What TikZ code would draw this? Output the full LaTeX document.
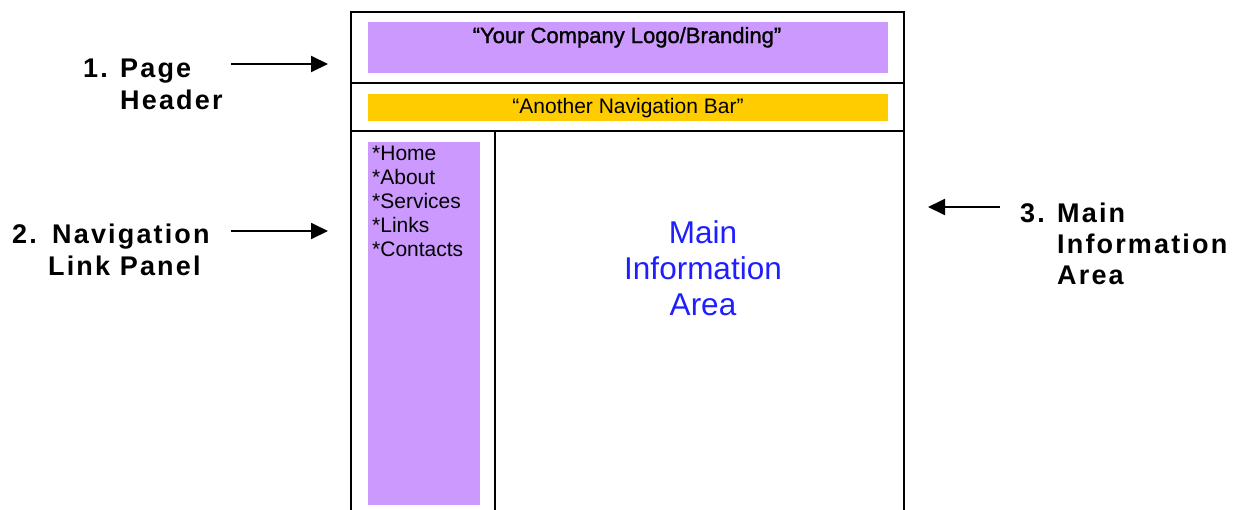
\documentclass[tikz,border=0pt]{standalone}
\usepackage{fontspec}
\setmainfont{Liberation Sans}
\newfontfamily\lblfont[LetterSpace=8]{Liberation Sans}
\newfontfamily\logofont[FakeBold=1.2]{Liberation Sans}
\usetikzlibrary{arrows.meta}
\definecolor{purp}{HTML}{CC99FF}
\definecolor{gold}{HTML}{FFCC00}
\definecolor{infoblue}{RGB}{30,30,255}
\tikzset{
  frame/.style={line width=2pt, draw=black},
  lbl/.style={inner sep=0pt, anchor=base west, font=\lblfont\bfseries\fontsize{27}{32}\selectfont},
  arr/.style={line width=2pt, -{Triangle[length=17pt,width=16pt]}},
  txt/.style={inner sep=0pt, anchor=base}
}
\begin{document}
\begin{tikzpicture}[x=1pt,y=-1pt]
\useasboundingbox (0,0) rectangle (1238,509);
% frame
\draw[frame] (351,515) -- (351,12) -- (904,12) -- (904,515);
\draw[frame] (351,83) -- (904,83);
\draw[frame] (351,131) -- (904,131);
\draw[frame] (495,131) -- (495,515);
% panels
\path[fill=purp] (368,22) rectangle (888,73);
\path[fill=gold] (368,94) rectangle (888,121);
\path[fill=purp] (368,142) rectangle (480,505);
\node[txt, font=\logofont\fontsize{22}{24}\selectfont] (logo) at (627,43) {“Your Company Logo/Branding”};
\node[txt, font=\fontsize{21}{24}\selectfont] (navbar) at (628,113) {“Another Navigation Bar”};
\node[inner sep=0pt, anchor=base west, font=\fontsize{21}{24}\selectfont] (links) at (372,160)
  {\begin{tabular}[t]{@{}l@{}}*Home\\{}*About\\{}*Services\\{}*Links\\{}*Contacts\end{tabular}};
\node[inner sep=0pt, anchor=base, text=infoblue, font=\fontsize{31.5}{36}\selectfont] (main) at (703,243)
  {\begin{tabular}[t]{@{}c@{}}Main\\Information\\Area\end{tabular}};
% labels
\node[lbl] (l1) at (83,77) {\begin{tabular}[t]{@{}l@{}l@{}}\makebox[37pt][l]{1.}&Page\\&Header\end{tabular}};
\node[lbl] (l2) at (12,243) {\begin{tabular}[t]{@{}l@{}l@{}}\makebox[40pt][l]{2.}&Navigation\\&\hspace{-4pt}Link Panel\end{tabular}};
\node[lbl, font=\lblfont\bfseries\fontsize{27}{31}\selectfont] (l3) at (1020,222) {\begin{tabular}[t]{@{}l@{}l@{}}\makebox[37pt][l]{3.}&Main\\&Information\\&Area\end{tabular}};
% arrows
\coordinate (a1s) at (231,64); \coordinate (a1e) at (328,64);
\coordinate (a2s) at (231,231); \coordinate (a2e) at (328,231);
\coordinate (a3s) at (1000,207); \coordinate (a3e) at (928,207);
\draw[arr] (a1s) -- (a1e);
\draw[arr] (a2s) -- (a2e);
\draw[arr] (a3s) -- (a3e);
\end{tikzpicture}
\end{document}
